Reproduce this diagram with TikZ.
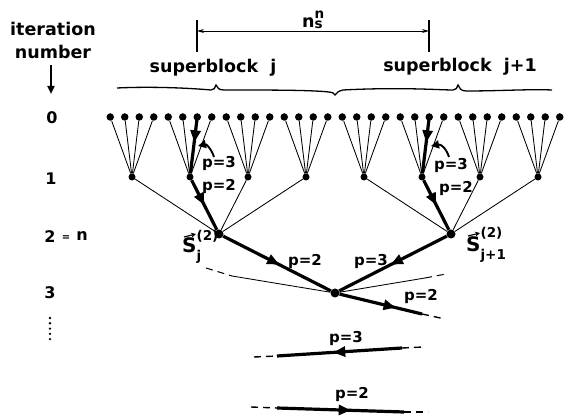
\documentclass[tikz,border=0pt]{standalone}
\usepackage{fontspec}
\setmainfont{DejaVu Sans}
\usetikzlibrary{arrows.meta,decorations.markings}
\newcommand\scr[1]{{\fontsize{13.5}{14}\selectfont\bfseries #1}}
\tikzset{
  leaf/.style={circle,fill=black,inner sep=0pt,minimum size=7.5pt},
  mid/.style={circle,fill=black,inner sep=0pt,minimum size=7pt},
  big/.style={circle,fill=black,inner sep=0pt,minimum size=9pt},
  thinline/.style={line width=0.85pt},
  thickline/.style={line width=3.2pt},
  dashline/.style={line width=1.4pt,dash pattern=on 7pt off 5pt},
  midarrow/.style={postaction={decorate},decoration={markings,
     mark=at position #1 with {\arrow{Triangle[length=12pt,width=10pt]}}}},
  vecline/.style={line width=1.2pt,-{Stealth[length=5pt,width=5pt]}},
  lbl/.style={font=\fontsize{17.5}{19}\selectfont\bfseries,inner sep=0pt},
  slbl/.style={font=\fontsize{20}{22}\selectfont\bfseries,inner sep=0pt},
  plbl/.style={font=\fontsize{15}{16}\selectfont\bfseries,inner sep=0pt},
  numlbl/.style={font=\fontsize{16}{18}\selectfont\bfseries,inner sep=0pt},
}
\begin{document}
\begin{tikzpicture}[x=1pt,y=-1pt]
\useasboundingbox[fill=white] (0,0) rectangle (565,419);

% left column labels
\node[lbl] (it) at (53,29) {iteration};
\node[lbl] (nb) at (53,52) {number};
\coordinate (ia) at (51,65);
\coordinate (ib) at (51,94);
\draw[line width=2pt,-{Triangle[length=8pt,width=7pt]}] (ia) -- (ib);
\node[numlbl] (n0) at (52,118) {0};
\node[numlbl] (n1) at (51,179) {1};
\node[numlbl] (n2) at (50,237) {2};
\node[font=\fontsize{10}{10}\selectfont\bfseries,inner sep=0pt] (neq) at (66,238) {=};
\node[numlbl] (nn) at (82,236) {n};
\node[numlbl] (n3) at (50,293) {3};
\foreach \k in {0,...,4} \fill (50,318+5.3*\k) circle (1.3pt);

% dimension line
\coordinate (ta) at (197,20); \coordinate (tb) at (197,52);
\coordinate (tc) at (429,20); \coordinate (td) at (429,52);
\coordinate (da) at (197,31); \coordinate (db) at (429,31);
\draw[line width=1.2pt] (ta) -- (tb);
\draw[line width=1.2pt] (tc) -- (td);
\draw[line width=0.9pt,{Stealth[length=7pt,width=4pt]}-{Stealth[length=7pt,width=4pt]}] (da) -- (db);
\node[lbl,anchor=base west] (ns) at (302,28) {n\rlap{\raisebox{9pt}{\scr{n}}}\raisebox{-1pt}{\scr{s}}};

% superblocks and brace
\node[lbl] (sbj) at (213,68) {superblock\ \ j};
\node[lbl] (sbj1) at (460,67) {superblock\ \ j+1};
\draw[line width=1.3pt] (117,88) .. controls (160,86) and (200,89) .. (211,90)
  .. controls (214,90) and (215,88) .. (216,85)
  .. controls (217,88) and (219,90) .. (224,90)
  .. controls (270,90) and (310,90) .. (329,92)
  .. controls (332,92) and (334,93) .. (335,95)
  .. controls (337,92) and (339,91) .. (343,90)
  .. controls (400,87) and (440,90) .. (453,90)
  .. controls (456,90) and (457,88) .. (458,85)
  .. controls (459,88) and (461,91) .. (466,91)
  .. controls (500,91) and (530,89) .. (552,90);

% tree levels 0 and 1
\foreach \g in {0,...,7} {
  \pgfmathsetmacro\c{132+58*\g}
  \node[mid] (m\g) at (\c,177) {};
  \foreach \l/\dx in {0/-21.75,1/-7.25,2/7.25,3/21.75} {
    \node[leaf] (l\g-\l) at (\c+\dx,117) {};
    \draw[thinline] (l\g-\l) -- (m\g);
  }
}

% level 2
\node[big] (L) at (219,234) {};
\node[big] (R) at (451,234) {};
\foreach \g in {0,...,3} \draw[thinline] (m\g) -- (L);
\foreach \g in {4,...,7} \draw[thinline] (m\g) -- (R);

% level 3
\node[big] (C) at (335,293) {};

% thick paths left
\draw[thickline,midarrow=0.45] (l1-2.center) -- (m1);
\draw[thickline,midarrow=0.5] (m1) -- (L);
\draw[line width=1.9pt,-{Triangle[length=8pt,width=8pt]}] (214,157) .. controls (211,148) and (206,144) .. (198,146);
\node[plbl] (pa) at (219,163) {p=3};
\node[plbl] (pb) at (219,186) {p=2};

% thick paths right
\draw[thickline,midarrow=0.45] (l5-2.center) -- (m5);
\draw[thickline,midarrow=0.5] (m5) -- (R);
\draw[line width=1.9pt,-{Triangle[length=8pt,width=8pt]}] (449,157) .. controls (446,148) and (441,144) .. (431,146);
\node[plbl] (pc) at (451,165) {p=3};
\node[plbl] (pd) at (456,188) {p=2};

% S labels
\node[slbl,anchor=base west] (SL) at (182,253)
  {S\rlap{\raisebox{-8pt}{\scr{j}}}\raisebox{12pt}{\scr{(2)}}};
\node[slbl,anchor=base west] (SR) at (466,252)
  {S\rlap{\raisebox{14pt}{\scr{(2)}}}\raisebox{-8pt}{\scr{j+1}}};
\coordinate (vl1) at (184,237); \coordinate (vl2) at (196,234);
\draw[vecline] (vl1) -- (vl2);
\coordinate (vr1) at (468,236); \coordinate (vr2) at (480,233);
\draw[vecline] (vr1) -- (vr2);

% level 2 -> 3
\draw[thickline,midarrow=0.52] (L) -- (C);
\draw[thickline,midarrow=0.52] (R) -- (C);
\node[plbl] (pe) at (305,261) {p=2};
\node[plbl] (pf) at (371,261) {p=3};

% level 3 outgoing
\coordinate (a1) at (206,268); \coordinate (a2) at (232,276);
\draw[dashline,line width=1pt] (a1) -- (a2);
\draw[thinline] (a2) -- (C);
\coordinate (b1) at (425,278); \coordinate (b2) at (446,274);
\draw[thinline] (C) -- (b1);
\draw[dashline,line width=1pt] (b1) -- (b2);
\coordinate (c1) at (422,314); \coordinate (c2) at (445,319);
\draw[thickline,midarrow=0.68] (C) -- (c1);
\draw[dashline] (c1) -- (c2);
\node[plbl] (pg) at (421,296) {p=2};

% level 4
\coordinate (d0) at (254,357); \coordinate (d1) at (277,356);
\coordinate (d2) at (402,348); \coordinate (d3) at (423,347);
\draw[dashline] (d0) -- (d1);
\draw[thickline,midarrow=0.55] (d2) -- (d1);
\draw[dashline] (d2) -- (d3);
\node[plbl] (ph) at (346,338) {p=3};

% level 5
\coordinate (e0) at (251,407); \coordinate (e1) at (277,408);
\coordinate (e2) at (404,412); \coordinate (e3) at (428,412);
\draw[dashline] (e0) -- (e1);
\draw[thickline,midarrow=0.58] (e1) -- (e2);
\draw[dashline] (e2) -- (e3);
\node[plbl] (pi) at (352,394) {p=2};
\end{tikzpicture}
\end{document}
